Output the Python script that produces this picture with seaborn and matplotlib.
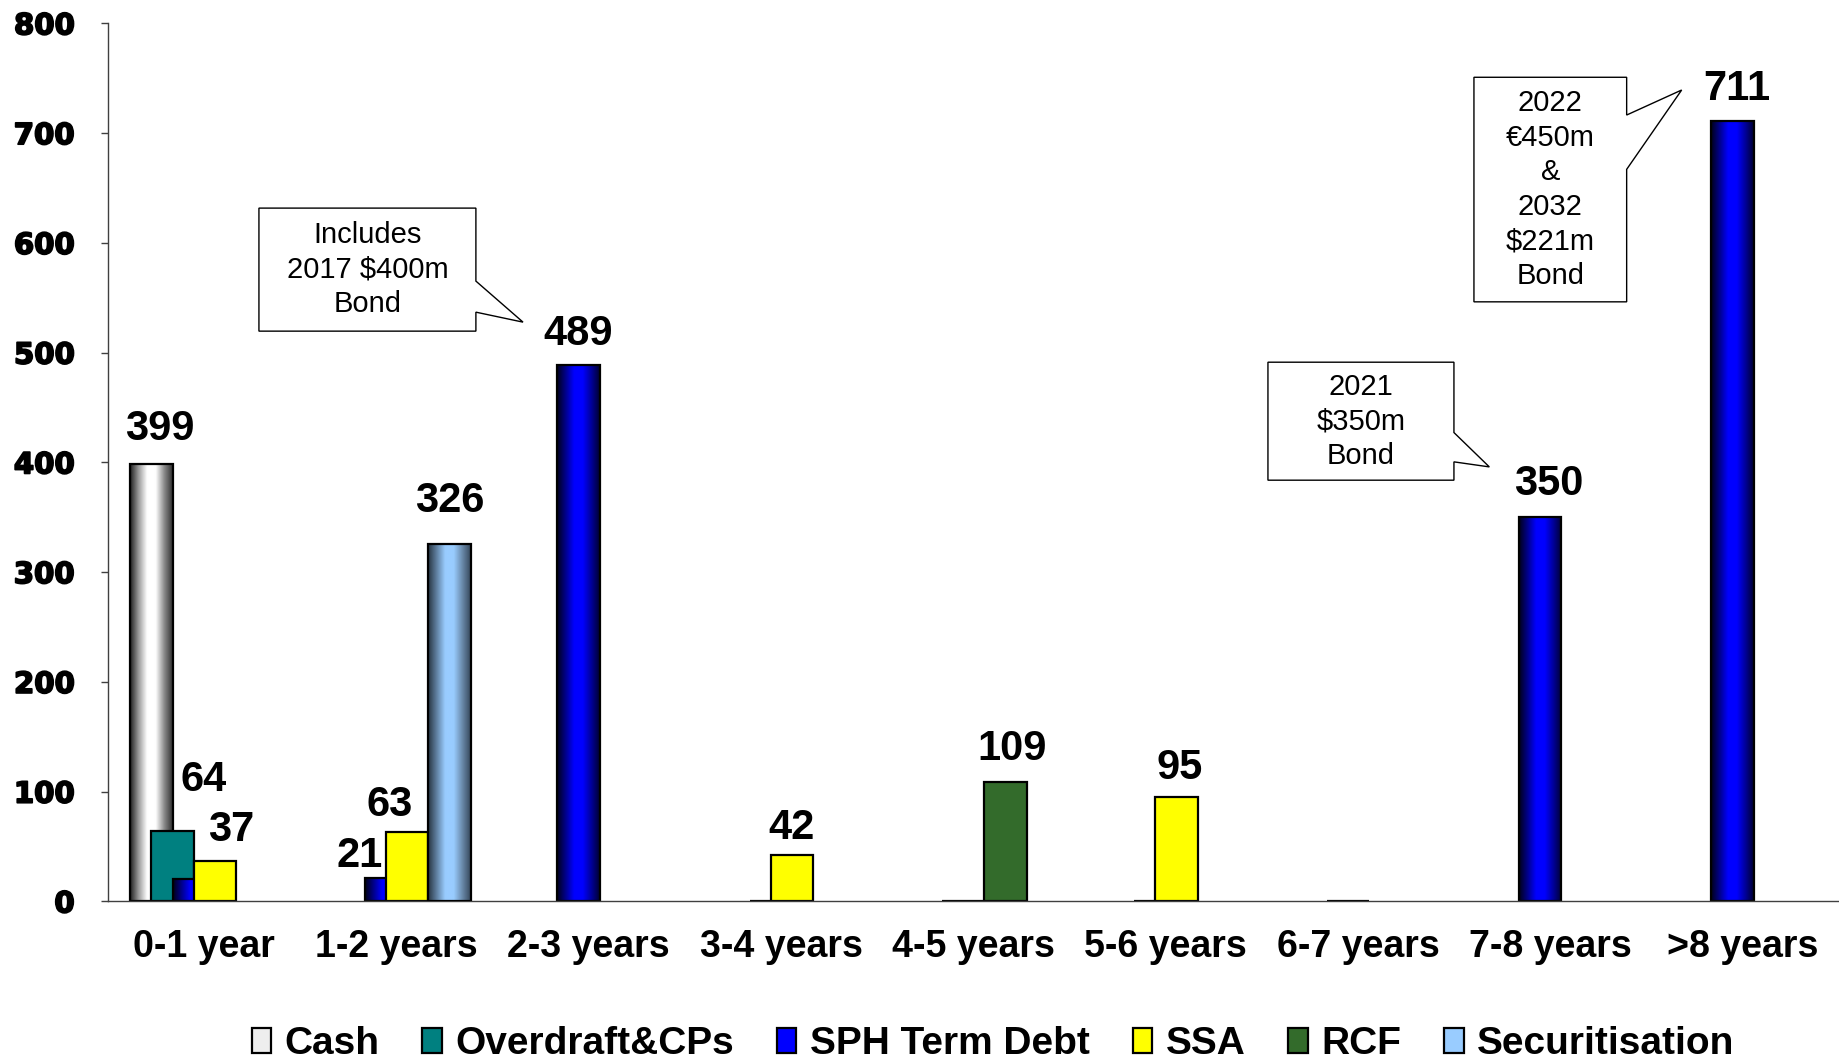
import numpy as np
import pandas as pd
import matplotlib
matplotlib.use('Agg')
import matplotlib.pyplot as plt
import matplotlib.patheffects as pe
import seaborn as sns
from matplotlib.colors import LinearSegmentedColormap
from matplotlib.patches import Patch, Polygon

nan = np.nan

# maturity buckets and debt series
buckets = ['0-1 year', '1-2 years', '2-3 years', '3-4 years', '4-5 years',
           '5-6 years', '6-7 years', '7-8 years', '>8 years']
series_names = ['Cash', 'Overdraft&CPs', 'SPH Term Debt', 'SSA', 'RCF', 'Securitisation']

cash = [399, nan, nan, nan, nan, nan, nan, nan, nan]
overdraft = [64, nan, nan, nan, nan, nan, nan, nan, nan]
sph_term_debt = [20, 21, 489, 0, 0, 0, 0, 350, 711]
ssa = [37, 63, nan, 42, nan, 95, nan, nan, nan]
rcf = [nan, nan, nan, nan, 109, nan, nan, nan, nan]
securitisation = [nan, 326, nan, nan, nan, nan, nan, nan, nan]

y_ticks = [0, 100, 200, 300, 400, 500, 600, 700, 800]

callout_texts = ['Includes\n2017 $400m\nBond',
                 '2021\n$350m\nBond',
                 '2022\n€450m\n&\n2032\n$221m\nBond']

# styles
colors = {'Cash': '#eeeeee', 'Overdraft&CPs': '#008080', 'SPH Term Debt': '#0000ff',
          'SSA': '#ffff00', 'RCF': '#336b2b', 'Securitisation': '#99ccff'}
gradients = {'Cash': ['#1e1e1e', '#9a9a9a', '#ffffff', '#ffffff', '#8a8a8a', '#2e2e2e'],
             'SPH Term Debt': ['#000018', '#00008a', '#0000ff', '#0000ff', '#00009a', '#000030'],
             'Securitisation': ['#263340', '#5f7f9f', '#99ccff', '#99ccff', '#6a8aaa', '#35465a']}

# label nudges in points (dx, dy above bar top, baseline)
label_offsets = {('Cash', '0-1 year'): (6, 17),
                 ('Overdraft&CPs', '0-1 year'): (22, 29),
                 ('SSA', '0-1 year'): (12, 14),
                 ('SPH Term Debt', '1-2 years'): (-19, 8),
                 ('SSA', '1-2 years'): (-13, 12),
                 ('Securitisation', '1-2 years'): (0, 23),
                 ('SPH Term Debt', '2-3 years'): (0, 14),
                 ('SSA', '3-4 years'): (0, 12),
                 ('RCF', '4-5 years'): (5, 16),
                 ('SSA', '5-6 years'): (2, 13),
                 ('SPH Term Debt', '7-8 years'): (6, 16),
                 ('SPH Term Debt', '>8 years'): (3, 15)}
hidden_labels = [('SPH Term Debt', '0-1 year')]

# callout outlines: box (x0, x1, y0, y1), pointer base on right edge (ya, yb), tip (x, y)
callout_shapes = [((0.285, 1.413, 519.6, 631.7), (536.9, 565.2), (1.658, 527.8)),
                  ((5.531, 6.498, 383.8, 491.3), (400.5, 427.2), (6.682, 395.9)),
                  ((6.602, 7.396, 546.3, 750.9), (667.0, 716.5), (7.682, 739.3))]

df = pd.DataFrame({'bucket': buckets * 6,
                   'series': np.repeat(series_names, len(buckets)),
                   'value': cash + overdraft + sph_term_debt + ssa + rcf + securitisation})
df = df.dropna()

sns.set_style('white')
plt.rcParams['font.family'] = ['Liberation Sans', 'DejaVu Sans']
plt.rcParams['text.color'] = 'black'
plt.rcParams['xtick.color'] = 'black'
plt.rcParams['ytick.color'] = 'black'
plt.rcParams['axes.labelcolor'] = 'black'

fig = plt.figure(figsize=(18.39, 10.63), dpi=100)
ax = fig.add_axes([0.0587, 0.152, 0.9413, 0.826])

sns.barplot(data=df, x='bucket', y='value', hue='series', order=buckets,
            hue_order=series_names, palette=colors, saturation=1, errorbar=None,
            edgecolor='black', linewidth=1.6, legend=False, ax=ax)

bar_w = 0.22
step = 0.11
for i, cont in enumerate(ax.containers):
    name = series_names[i]
    base_z = 2 + i * 0.1
    for patch in cont.patches:
        g = int(round(patch.get_x() + patch.get_width() / 2))
        x0 = g - 0.384 + i * step
        patch.set_x(x0)
        patch.set_width(bar_w)
        patch.set_zorder(base_z + 0.02)
        h = patch.get_height()
        if name in gradients and h > 0:
            cmap = LinearSegmentedColormap.from_list(name, gradients[name])
            im = ax.imshow(np.linspace(0, 1, 256)[np.newaxis, :], extent=[x0, x0 + bar_w, 0, h],
                           aspect='auto', cmap=cmap, zorder=base_z + 0.01, interpolation='bicubic')
            im.set_clip_path(patch)
            patch.set_facecolor('none')
        # data labels
        key = (name, buckets[g])
        if h > 0 and key not in hidden_labels:
            dx, dy = label_offsets.get(key, (0, 13))
            ax.annotate(f'{h:.0f}', xy=(x0 + bar_w / 2, h), xytext=(dx, dy),
                        textcoords='offset points', ha='center', va='baseline',
                        fontsize=30, fontweight='bold', color='black', zorder=5)

# axes
ax.set_xlim(-0.5, 8.5)
ax.set_ylim(0, 800)
ax.set_yticks(y_ticks)
ax.set_yticklabels([str(t) for t in y_ticks], fontfamily='DejaVu Sans',
                   fontweight='bold', fontsize=21,
                   path_effects=[pe.withStroke(linewidth=1.3, foreground='black')])
ax.set_xticks(range(len(buckets)))
ax.set_xticklabels(buckets, fontsize=27, fontweight='bold')
ax.set_xticks(np.arange(-0.5, 9, 1), minor=True)
ax.tick_params(axis='x', which='major', length=0, pad=20)
ax.tick_params(axis='x', which='minor', length=7, width=1, color='#404040', direction='out')
ax.tick_params(axis='y', length=5, width=1, color='#404040', direction='out', pad=19, left=True)
ax.set_xlabel('')
ax.set_ylabel('')
sns.despine(ax=ax, top=True, right=True)
for s in ['left', 'bottom']:
    ax.spines[s].set_color('#404040')
    ax.spines[s].set_linewidth(1)

# callout boxes with pointer
for txt, (box, base, tip) in zip(callout_texts, callout_shapes):
    bx0, bx1, by0, by1 = box
    outline = [(bx0, by0), (bx1, by0), (bx1, base[0]), tip, (bx1, base[1]),
               (bx1, by1), (bx0, by1)]
    ax.add_patch(Polygon(outline, closed=True, facecolor='white', edgecolor='black',
                         linewidth=1, zorder=6, clip_on=False))
    ax.text((bx0 + bx1) / 2, (by0 + by1) / 2, txt, ha='center', va='center',
            fontsize=21, linespacing=1.3, color='black', zorder=7)

# legend
handles = [Patch(facecolor=colors[n], edgecolor='black', linewidth=1.6) for n in series_names]
fig.legend(handles, series_names, loc='center', bbox_to_anchor=(0.54, 0.018), ncol=6,
           frameon=False, prop={'family': 'Liberation Sans', 'weight': 'bold', 'size': 28},
           handlelength=0.5, handleheight=0.6, handletextpad=0.35, columnspacing=1.1)

fig.savefig('out.png', dpi=100)
